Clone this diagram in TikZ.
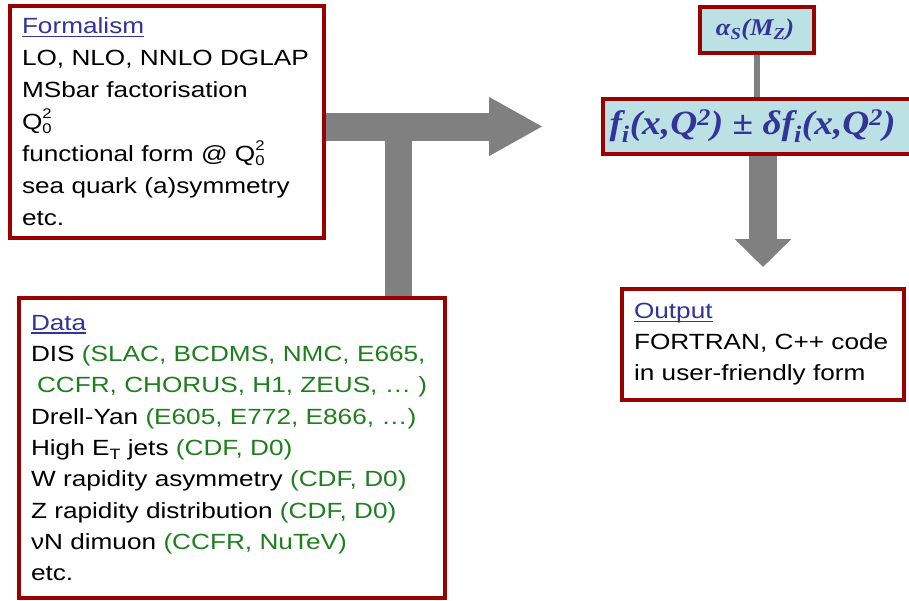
\documentclass[tikz,border=0pt]{standalone}
\usepackage{fontspec}
\setmainfont{Liberation Sans}[FakeStretch=1.19]
\newfontfamily\formulafont{Liberation Serif}[FakeStretch=1.1]
\usetikzlibrary{arrows.meta,backgrounds}
\definecolor{boxred}{HTML}{990000}
\definecolor{headblue}{HTML}{333399}
\definecolor{exptgreen}{HTML}{1F7F1F}
\definecolor{valuefill}{HTML}{BCE1E4}
\newcommand{\head}[1]{\textcolor{headblue}{\setbox0\hbox{#1}\rlap{\rule[-3.5pt]{\wd0}{1.6pt}}\box0}}
\newcommand{\expt}[1]{\textcolor{exptgreen}{#1}}
\newcommand{\qnull}{\rlap{\raisebox{-3.5pt}{\fontsize{14}{14}\selectfont 0}}\raisebox{11pt}{\fontsize{14}{14}\selectfont 2}}
\begin{document}
\begin{tikzpicture}[x=1pt, y=-1pt,
  info box/.style={draw=boxred, line width=4pt, fill=white, anchor=north west, align=left, inner xsep=12pt, inner ysep=0pt},
  value box/.style={draw=boxred, line width=4pt, fill=valuefill, text=headblue, anchor=north west, inner sep=0pt},
  big bar/.style={draw=gray, line width=27pt},
  thin bar/.style={draw=gray, line width=6pt}]
\useasboundingbox (0,0) rectangle (909,600);

% input boxes
\node [info box, text width=290pt, minimum height=232pt, font=\fontsize{22}{32}\selectfont] (formalism) at (8,4)
  {\head{Formalism}\\
   LO, NLO, NNLO DGLAP\\
   MSbar factorisation\\
   Q\qnull\\
   functional form @ Q\qnull\\
   sea quark (a)symmetry\\
   etc.};
\node [info box, text width=402pt, minimum height=300pt, font=\fontsize{22}{31.3}\selectfont] (data) at (17,296)
  {\head{Data}\\
   DIS \expt{(SLAC, BCDMS, NMC, E665,}\\
   \hspace*{6pt}\expt{CCFR, CHORUS, H1, ZEUS, … )}\\
   Drell-Yan \expt{(E605, E772, E866, …)}\\
   High E\raisebox{-4pt}{\fontsize{15}{15}\selectfont T} jets \expt{(CDF, D0)}\\
   W rapidity asymmetry \expt{(CDF, D0)}\\
   Z rapidity distribution \expt{(CDF, D0)}\\
   νN dimuon \expt{(CCFR, NuTeV)}\\
   etc.};

% fit results
\node [value box, minimum width=114pt, minimum height=46pt, font=\formulafont\bfseries\itshape\fontsize{24}{24}\selectfont] (alphas) at (698,5)
  {α\textsubscript{S}(M\textsubscript{Z})\kern4pt};
\node [value box, minimum width=311pt, minimum height=55pt, font=\formulafont\bfseries\itshape\fontsize{34}{34}\selectfont] (pdf) at (601,97)
  {f\textsubscript{i}(x,Q\textsuperscript{2}) ± δf\textsubscript{i}(x,Q\textsuperscript{2})\kern12pt};

% output
\node [info box, text width=258pt, minimum height=111pt, font=\fontsize{22}{31}\selectfont] (output) at (620,287)
  {\head{Output}\\
   FORTRAN, C++ code\\
   in user-friendly form};

\begin{scope}[on background layer]
\coordinate (join) at (398,0);
\draw [big bar, line width=28pt, -{Triangle[width=55pt, length=54pt]}] (formalism.east |- pdf.west) -- ([xshift=-58pt]pdf.west);
\draw [big bar] (data.north -| join) -- (join |- pdf.west);
\draw [thin bar] (alphas.south) -- (alphas.south |- pdf.north);
\draw [big bar, line width=28pt, -{Triangle[width=55pt, length=28pt]}] (pdf.south -| output.north) -- ([yshift=20pt]output.north);
\end{scope}
\end{tikzpicture}
\end{document}
